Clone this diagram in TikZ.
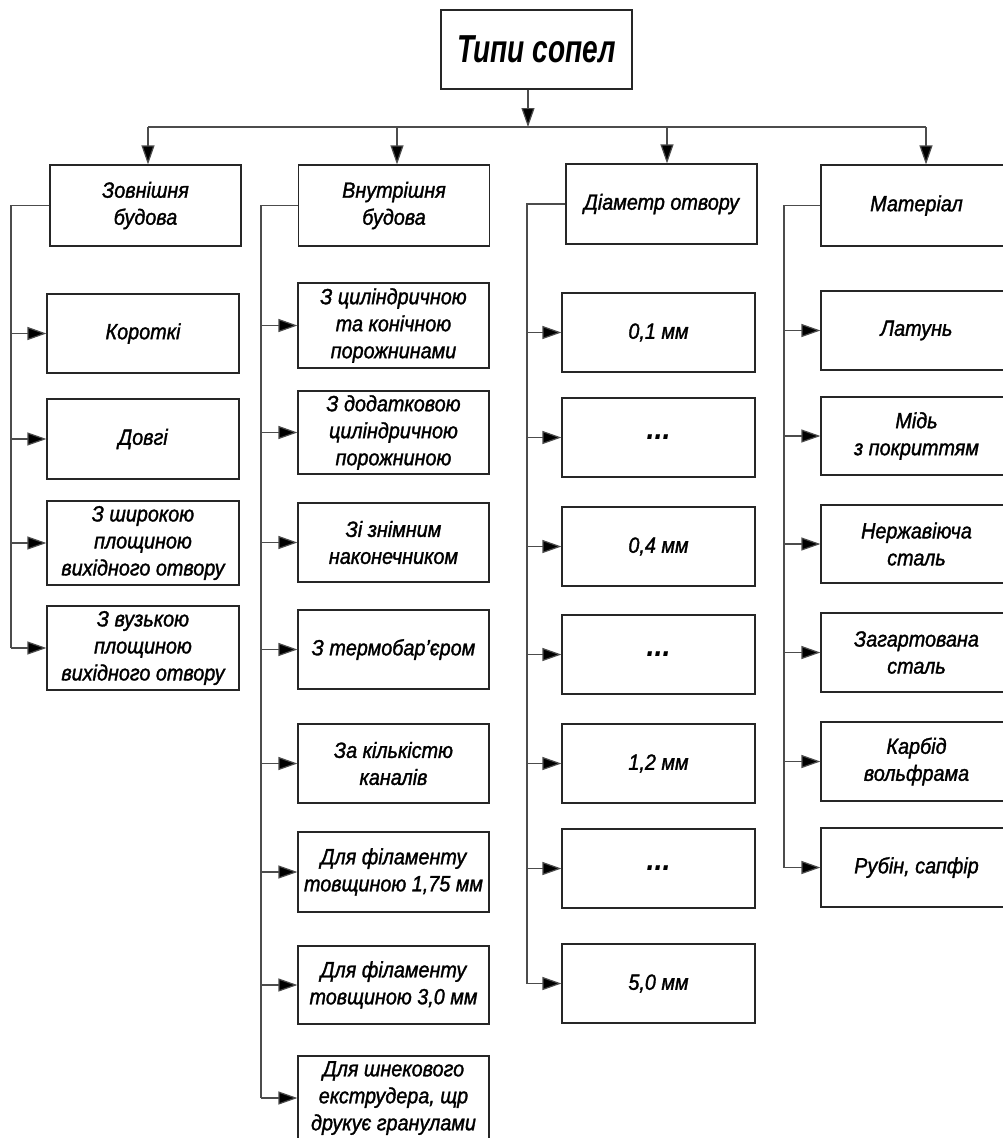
\documentclass[tikz,border=0pt]{standalone}
\usepackage{fontspec}
\usetikzlibrary{arrows.meta}
\newfontfamily\boxfont{Liberation Sans}[FakeStretch=0.9,ItalicFeatures={FakeBold=1.4}]
\newfontfamily\headfont{Liberation Sans}[FakeStretch=0.72]
\tikzset{
  box/.style={draw=black!85, line width=1.2pt, fill=white, align=center, inner sep=0pt,
    font=\boxfont\itshape\fontsize{22}{27}\selectfont},
  lvl/.style={box, minimum width=191pt, minimum height=81pt},
  conn/.style={draw=black!70, line width=1.2pt},
  arr/.style={conn, -{Triangle[length=19pt,width=13pt,fill=black]}},
  dots/.style={font=\boxfont\bfseries\itshape\fontsize{32}{32}\selectfont}
}
\begin{document}
\begin{tikzpicture}[x=1pt,y=-1pt]
\useasboundingbox (0,0) rectangle (1003,1138);
% top
\node[box, minimum width=191pt, minimum height=79pt,
  font=\headfont\bfseries\itshape\fontsize{39}{42}\selectfont] (top) at (536.5,49.5) {Типи сопел};
% level 2
\node[lvl] (L1) at (145.5,205.5) {Зовнішня\\будова};
\node[lvl] (L2) at (394,205.5) {Внутрішня\\будова};
\node[lvl, minimum width=191pt, minimum height=80pt] (L3) at (661.5,204) {Діаметр отвору};
\node[lvl, minimum width=210pt] (L4) at (926,205.5) {\hspace*{-19pt}Матеріал};
\coordinate (bar) at (0,127);
\draw[arr] ([xshift=-8.5pt]top.south) -- ([xshift=-8.5pt]top.south |- bar);
\draw[conn] ([xshift=2.5pt]L1.north |- bar) -- (L4.north |- bar);
\draw[arr] ([xshift=2.5pt]L1.north |- bar) -- ([xshift=2.5pt]L1.north);
\draw[arr] ([xshift=3pt]L2.north |- bar) -- ([xshift=3pt]L2.north);
\draw[arr] ([xshift=5.5pt]L3.north |- bar) -- ([xshift=5.5pt]L3.north);
\draw[arr] (L4.north |- bar) -- (L4.north);
% column 1
\coordinate (s1) at (11,0);
\node[box, minimum width=192pt, minimum height=79pt] (a1) at (143,333.5) {Короткі};
\node[box, minimum width=192pt, minimum height=80pt] (a2) at (143,439) {Довгі};
\node[box, minimum width=192pt, minimum height=84pt] (a3) at (143,543) {З широкою\\площиною\\вихідного отвору};
\node[box, minimum width=192pt, minimum height=84pt] (a4) at (143,648) {З вузькою\\площиною\\вихідного отвору};
\draw[conn] (L1.west) -- (L1.west -| s1) -- (a4.west -| s1);
\foreach \n in {a1,a2,a3,a4} \draw[arr] (\n.west -| s1) -- (\n.west);
% column 2
\coordinate (s2) at (261,0);
\node[box, minimum width=191pt, minimum height=85pt] (b1) at (393.5,325.5) {З циліндричною\\та конічною\\порожнинами};
\node[box, minimum width=191pt, minimum height=83pt] (b2) at (393.5,432.5) {З додатковою\\циліндричною\\порожниною};
\node[box, minimum width=191pt, minimum height=79pt] (b3) at (393.5,542.5) {Зі знімним\\наконечником};
\node[box, minimum width=191pt, minimum height=79pt] (b4) at (393.5,649.5) {З термобар’єром};
\node[box, minimum width=191pt, minimum height=79pt] (b5) at (393.5,763.5) {За кількістю\\каналів};
\node[box, minimum width=191pt, minimum height=80pt] (b6) at (393.5,872) {Для філаменту\\товщиною 1,75 мм};
\node[box, minimum width=191pt, minimum height=78pt] (b7) at (393.5,985) {Для філаменту\\товщиною 3,0 мм};
\node[box, minimum width=191pt, minimum height=84pt] (b8) at (393.5,1098) {Для шнекового\\екструдера, щр\\друкує гранулами};
\draw[conn] (L2.west) -- (L2.west -| s2) -- (b8.west -| s2);
\foreach \n in {b1,b2,b3,b4,b5,b6,b7,b8} \draw[arr] (\n.west -| s2) -- (\n.west);
% column 3
\coordinate (s3) at (527,0);
\node[box, minimum width=193pt, minimum height=79pt] (c1) at (658.5,332.5) {0,1 мм};
\node[box, dots, minimum width=193pt, minimum height=79pt] (c2) at (658.5,437.5) {...};
\node[box, minimum width=193pt, minimum height=79pt] (c3) at (658.5,546.5) {0,4 мм};
\node[box, dots, minimum width=193pt, minimum height=79pt] (c4) at (658.5,654.5) {...};
\node[box, minimum width=193pt, minimum height=79pt] (c5) at (658.5,763.5) {1,2 мм};
\node[box, dots, minimum width=193pt, minimum height=79pt] (c6) at (658.5,868.5) {...};
\node[box, minimum width=193pt, minimum height=79pt] (c7) at (658.5,983.5) {5,0 мм};
\draw[conn] (L3.west) -- (L3.west -| s3) -- (c7.west -| s3);
\foreach \n in {c1,c2,c3,c4,c5,c6,c7} \draw[arr] (\n.west -| s3) -- (\n.west);
% column 4
\coordinate (s4) at (784,0);
\node[box, minimum width=210pt, minimum height=79pt] (d1) at (926,330.5) {\hspace*{-19pt}Латунь};
\node[box, minimum width=210pt, minimum height=78pt] (d2) at (926,436) {\hspace*{-19pt}Мідь\\\hspace*{-19pt}з покриттям};
\node[box, minimum width=210pt, minimum height=78pt] (d3) at (926,544) {\hspace*{-19pt}Нержавіюча\\\hspace*{-19pt}сталь};
\node[box, minimum width=210pt, minimum height=79pt] (d4) at (926,652.5) {\hspace*{-19pt}Загартована\\\hspace*{-19pt}сталь};
\node[box, minimum width=210pt, minimum height=79pt] (d5) at (926,761.5) {\hspace*{-19pt}Карбід\\\hspace*{-19pt}вольфрама};
\node[box, minimum width=210pt, minimum height=79pt] (d6) at (926,867.5) {\hspace*{-19pt}Рубін, сапфір};
\draw[conn] (L4.west) -- (L4.west -| s4) -- (d6.west -| s4);
\foreach \n in {d1,d2,d3,d4,d5,d6} \draw[arr] (\n.west -| s4) -- (\n.west);
\end{tikzpicture}
\end{document}
